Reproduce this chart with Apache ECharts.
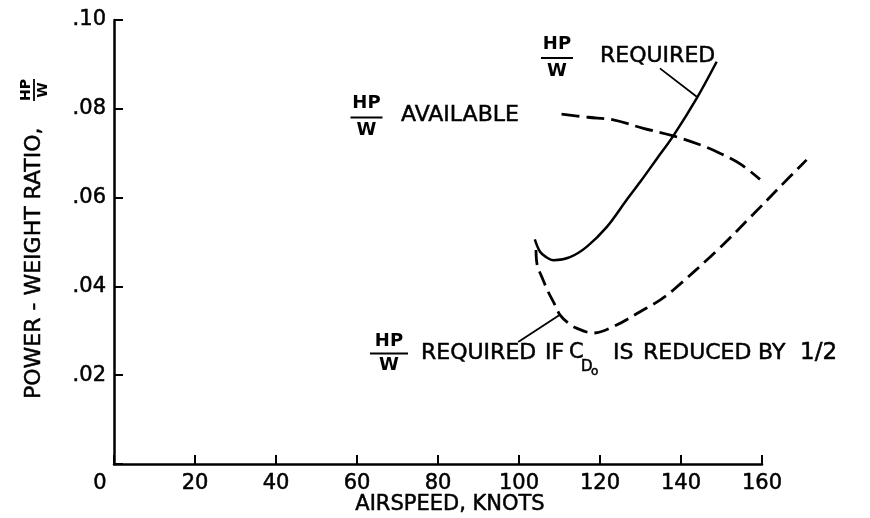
<!DOCTYPE html>
<html><head><meta charset="utf-8">
<script src="https://cdn.jsdelivr.net/npm/echarts@6/dist/echarts.min.js"></script>
<style>html,body{margin:0;padding:0;background:#fff}#c{width:870px;height:518px}</style>
</head><body><div id="c"></div>
<script>
// ---- data ----
const xTicks = [0, 20, 40, 60, 80, 100, 120, 140, 160];
const yTickLabels = ['', '.02', '.04', '.06', '.08', '.10'];

// HP/W required (solid)
const reqX = [103.9, 105.2, 106.7, 108.5, 112.6, 116.7, 121.7, 126.6, 129.9, 134.0, 138.1, 143.9, 148.8];
const reqY = [0.0506, 0.0478, 0.0466, 0.0459, 0.0466, 0.0489, 0.0534, 0.0595, 0.0635, 0.0687, 0.0739, 0.0824, 0.0906];

// HP/W available (dashed)
const avX = [110.5, 117.0, 123.3, 130.7, 138.1, 144.7, 149.6, 154.6, 159.5];
const avY = [0.0788, 0.0781, 0.0775, 0.0756, 0.0739, 0.0719, 0.0700, 0.0676, 0.0641];

// HP/W required if CDo reduced by 1/2 (dashed) - runs past the last tick
const lowX = [104.2, 104.5, 105.6, 107.2, 108.9, 110.1, 112.1, 114.2, 118.3, 124.1, 129.9, 134.8, 138.1, 148.8, 157.9, 164.4, 171.0];
const lowY = [0.0482, 0.0448, 0.0422, 0.0388, 0.0358, 0.0336, 0.0318, 0.0306, 0.0295, 0.0313, 0.0343, 0.0369, 0.0392, 0.0480, 0.0563, 0.0624, 0.0685];

// leader lines of the labels
const leadReqX = [134.8, 143.9];
const leadReqY = [0.0891, 0.0827];
const leadLowX = [99.8, 110.1];
const leadLowY = [0.0275, 0.0336];

// ---- chart ----
const FONT = 'DejaVu Sans';
const pairs = (xs, ys) => xs.map((x, i) => [x, ys[i]]);

// plot geometry: x 0..160 spans 114..762 px; a hidden twin axis continues the same scale to 176
const G = { left: 114, top: 20, bottom: 54, width: 648 };
const X_MAX = 160, X_EXT = 176;

function txt(x, y, s, size, weight, align) {
  return { type: 'text', x: x, y: y, silent: true,
    style: { text: s, fontSize: size, fontFamily: FONT, fontWeight: weight || 'normal',
      fill: '#000', stroke: '#000', lineWidth: weight === 'bold' ? 0 : 0.5,
      align: align || 'left', verticalAlign: 'middle' } };
}
function hline(x1, x2, y, w) {
  return { type: 'line', silent: true, shape: { x1: x1, y1: y, x2: x2, y2: y },
    style: { stroke: '#000', lineWidth: w || 2 } };
}
function frac(cx, yTop, yLine, yBot, half, size) {
  return [txt(cx, yTop, 'HP', size, 'bold', 'center'), hline(cx - half, cx + half, yLine, 2),
          txt(cx, yBot, 'W', size, 'bold', 'center')];
}

const chart = echarts.init(document.getElementById('c'), null, { renderer: 'canvas' });
const lineBase = { type: 'line', symbol: 'none', clip: false, silent: true, animation: false };
const labelInk = { color: '#000', textBorderColor: '#000', textBorderWidth: 0.5 };

chart.setOption({
  animation: false,
  backgroundColor: '#fff',
  grid: [
    { left: G.left, top: G.top, bottom: G.bottom, width: G.width },
    { left: G.left, top: G.top, bottom: G.bottom, width: G.width * X_EXT / X_MAX }
  ],
  xAxis: [{
    type: 'value', gridIndex: 0, min: xTicks[0], max: X_MAX, interval: 20,
    axisLine: { lineStyle: { color: '#000', width: 2.5 } },
    axisTick: { inside: true, length: 9, lineStyle: { color: '#000', width: 2 } },
    splitLine: { show: false },
    axisLabel: Object.assign({
      fontSize: 21, fontFamily: FONT, margin: 9,
      formatter: v => (v === 0 ? '{z|0}' : String(v)),
      rich: { z: Object.assign({ fontSize: 21, fontFamily: FONT, padding: [0, 28, 0, 0] }, labelInk) }
    }, labelInk)
  }, {
    type: 'value', gridIndex: 1, min: 0, max: X_EXT, show: false
  }],
  yAxis: [{
    type: 'value', gridIndex: 0, min: 0, max: 0.10, interval: 0.02,
    axisLine: { show: true, lineStyle: { color: '#000', width: 2.5 } },
    axisTick: { show: true, inside: true, length: 9, lineStyle: { color: '#000', width: 2 } },
    splitLine: { show: false },
    axisLabel: Object.assign({
      fontSize: 21, fontFamily: FONT, margin: 8,
      formatter: v => yTickLabels[Math.round(v / 0.02)] || ''
    }, labelInk)
  }, {
    type: 'value', gridIndex: 1, min: 0, max: 0.10, show: false
  }],
  series: [
    Object.assign({}, lineBase, { name: 'HP/W required', data: pairs(reqX, reqY), smooth: 0.35,
      lineStyle: { color: '#000', width: 2.5 } }),
    Object.assign({}, lineBase, { name: 'HP/W available', data: pairs(avX, avY), smooth: 0.35,
      lineStyle: { color: '#000', width: 2.8, type: [18, 7] } }),
    Object.assign({}, lineBase, { name: 'HP/W required if CDo reduced by 1/2', xAxisIndex: 1, yAxisIndex: 1,
      data: pairs(lowX, lowY), smooth: 0.35,
      lineStyle: { color: '#000', width: 2.8, type: [15, 7] } }),
    Object.assign({}, lineBase, { name: 'leader1', data: pairs(leadReqX, leadReqY), smooth: false,
      lineStyle: { color: '#000', width: 1.8 } }),
    Object.assign({}, lineBase, { name: 'leader2', data: pairs(leadLowX, leadLowY), smooth: false,
      lineStyle: { color: '#000', width: 1.8 } })
  ],
  graphic: [
    // x axis name
    txt(450, 505, 'AIRSPEED, KNOTS', 21, 'normal', 'center'),
    // y axis name (rotated)
    { type: 'group', x: 34, y: 399, rotation: Math.PI / 2, children: [
        txt(0, 0, 'POWER - WEIGHT RATIO,', 22, 'normal', 'left'),
        txt(309, -8, 'HP', 14, 'bold', 'center'),
        hline(298, 320, 0, 1.8),
        txt(309, 9, 'W', 14, 'bold', 'center')
    ] },
    // HP/W AVAILABLE
    ...frac(366.5, 103.5, 117.5, 130.5, 16, 18),
    txt(401, 115, 'AVAILABLE', 22),
    // HP/W REQUIRED
    ...frac(557, 44.5, 58, 71.5, 16, 18),
    txt(600, 56.5, 'REQUIRED', 22),
    // HP/W REQUIRED IF CDo IS REDUCED BY 1/2
    ...frac(389, 341.5, 353.5, 365.5, 19, 18),
    txt(421, 353, 'REQUIRED', 22),
    txt(545, 353, 'IF', 22),
    txt(569, 353, 'C', 21),
    txt(581, 367, 'D', 15),
    txt(591, 372, 'o', 12),
    txt(613, 353, 'IS', 22),
    txt(643, 353, 'REDUCED', 22),
    txt(758, 353, 'BY', 22),
    txt(800, 353, '1/2', 23)
  ]
});
</script>
</body></html>
